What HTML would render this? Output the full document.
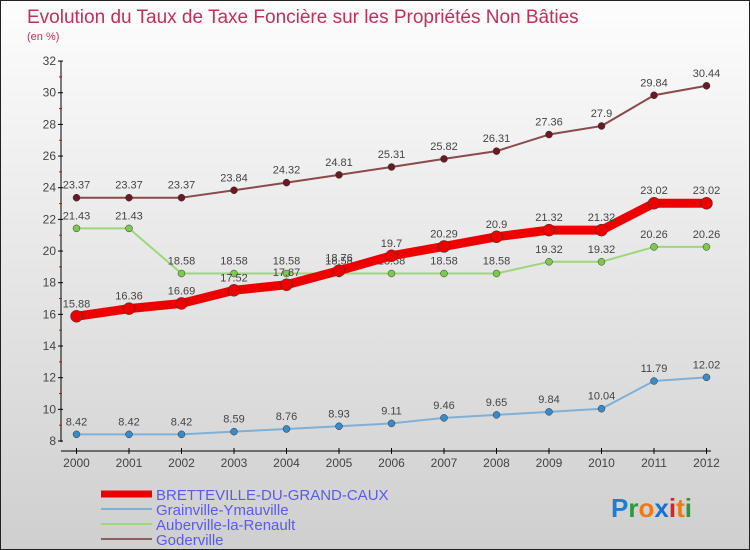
<!DOCTYPE html>
<html><head><meta charset="utf-8"><style>
body{margin:0;}
#c{width:750px;height:550px;position:relative;box-sizing:border-box;border:1px solid #222;background:linear-gradient(#fdfdfd,#cfcfcf);font-family:"Liberation Sans",sans-serif;overflow:hidden}
svg{position:absolute;left:0;top:0}
</style></head><body>
<div id="c">
<svg id="s" width="750" height="550">
<text x="26" y="22" font-size="19" fill="#c0305a">Evolution du Taux de Taxe Foncière sur les Propriétés Non Bâties</text>
<text x="26" y="39" font-size="11" fill="#c0305a">(en %)</text>
<text x="610" y="516" font-size="26" font-weight="bold"><tspan fill="#1a7fd4">P</tspan><tspan fill="#2a9a3a">r</tspan><tspan fill="#f07a10">o</tspan><tspan fill="#1a6fd0">x</tspan><tspan fill="#e02020">i</tspan><tspan fill="#f07a10">t</tspan><tspan fill="#2a9a3a">i</tspan></text>
</svg>
</div>
<script>
const years=[2000,2001,2002,2003,2004,2005,2006,2007,2008,2009,2010,2011,2012];
const bretteville=[15.88,16.36,16.69,17.52,17.87,18.76,19.7,20.29,20.9,21.32,21.32,23.02,23.02];
const grainville=[8.42,8.42,8.42,8.59,8.76,8.93,9.11,9.46,9.65,9.84,10.04,11.79,12.02];
const auberville=[21.43,21.43,18.58,18.58,18.58,18.58,18.58,18.58,18.58,19.32,19.32,20.26,20.26];
const goderville=[23.37,23.37,23.37,23.84,24.32,24.81,25.31,25.82,26.31,27.36,27.9,29.84,30.44];
const yTicks=[8,10,12,14,16,18,20,22,24,26,28,30,32];
const ns="http://www.w3.org/2000/svg",s=document.getElementById('s');
const X=i=>75.5+i*52.5, Y=v=>440-(v-8)*15.83;
function mk(t,a,p){const e=document.createElementNS(ns,t);for(const k in a)e.setAttribute(k,a[k]);(p||s).appendChild(e);return e;}
// axes
let ya=mk('line',{x1:60,y1:60,x2:60,y2:441,stroke:'#000'});


let xa=mk('line',{x1:60,y1:450,x2:710,y2:450,stroke:'#000'});


yTicks.forEach(v=>{
 mk('line',{x1:57,y1:Y(v),x2:62,y2:Y(v),stroke:'#000'});
 if(v<32) mk('line',{x1:58,y1:Y(v+1),x2:61,y2:Y(v+1),stroke:'#e00'});
 const t=mk('text',{x:55,y:Y(v)+4,'font-size':12,fill:'#444','text-anchor':'end'});t.textContent=v;
 
 
});
years.forEach((y,i)=>{
 mk('line',{x1:X(i),y1:447,x2:X(i),y2:453,stroke:'#000'});
 const t=mk('text',{x:X(i),y:466,'font-size':12,fill:'#444','text-anchor':'middle'});t.textContent=y;
 
 
});
function series(d,col,w,r,dot,name,lab){
 const g=mk('g',{});
 
 
 mk('polyline',{points:d.map((v,i)=>X(i)+','+Y(v)).join(' '),fill:'none',stroke:col,'stroke-width':w,'stroke-linejoin':'round'},g);
 d.forEach((v,i)=>{
  const c=mk('circle',{cx:X(i),cy:Y(v),r:r,fill:dot,stroke:'#333','stroke-width':0.5},g);
  
  
  if(lab){const t=mk('text',{x:X(i),y:Y(v)-9,'font-size':11,fill:'#444','text-anchor':'middle'},g);t.textContent=v;}
 });
}
series(grainville,'#7fb0d8',2,3.5,'#3a8ac8','series-grainville',true);
series(auberville,'#9ed67a',2,3.5,'#7cc850','series-auberville',true);
series(goderville,'#8a4a4a',2,3.5,'#6a1a20','series-goderville',true);
series(bretteville,'#ee0000',9,6,'#ee0000','series-bretteville',true);
const leg=[['BRETTEVILLE-DU-GRAND-CAUX','#ee0000',7],['Grainville-Ymauville','#7fb0d8',2],['Auberville-la-Renault','#9ed67a',2],['Goderville','#8a6060',2]];
leg.forEach((l,i)=>{
 const y=493+i*15;
 const g=mk('g',{});
 
 
 mk('line',{x1:100,y1:y,x2:151,y2:y,stroke:l[1],'stroke-width':l[2]},g);
 const t=mk('text',{x:155,y:y+6,'font-size':15,fill:'#5a5af0'},g);t.textContent=l[0];
});
</script>
</body></html>
